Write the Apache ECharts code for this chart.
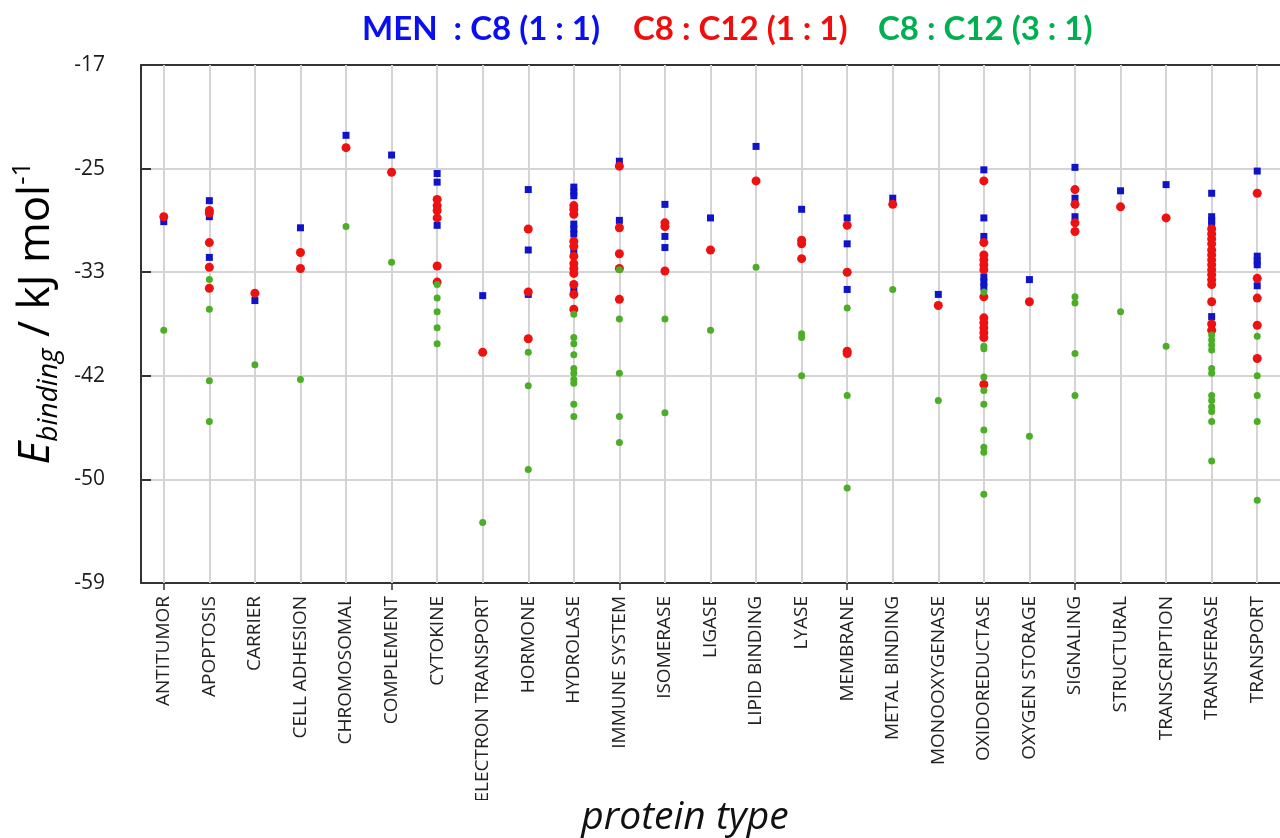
<!DOCTYPE html>
<html>
<head>
<meta charset="utf-8">
<script src="https://cdn.jsdelivr.net/npm/echarts@6/dist/echarts.min.js"></script>
<style>
  html, body { margin: 0; padding: 0; background: #fff; }
  #chart { width: 1280px; height: 838px; }
</style>
</head>
<body>
<div id="chart"></div>
<script>
// Protein types along the x axis
const categories = [
  'ANTITUMOR', 'APOPTOSIS', 'CARRIER', 'CELL ADHESION', 'CHROMOSOMAL',
  'COMPLEMENT', 'CYTOKINE', 'ELECTRON TRANSPORT', 'HORMONE', 'HYDROLASE',
  'IMMUNE SYSTEM', 'ISOMERASE', 'LIGASE', 'LIPID BINDING', 'LYASE',
  'MEMBRANE', 'METAL BINDING', 'MONOOXYGENASE', 'OXIDOREDUCTASE', 'OXYGEN STORAGE',
  'SIGNALING', 'STRUCTURAL', 'TRANSCRIPTION', 'TRANSFERASE', 'TRANSPORT'
];

// Binding energies (kJ/mol), one list per protein type, same order as categories
const menC8 = [
  [-29.7], [-28.0, -29.3, -32.6], [-36.1], [-30.2], [-22.7],
  [-24.3], [-25.8, -26.5, -30.0], [-35.7], [-27.1, -32.0, -35.6],
  [-26.9, -27.3, -27.6, -29.9, -30.3, -30.7, -32.1, -35.3],
  [-24.8, -29.6], [-28.3, -30.9, -31.8], [-29.4], [-23.6], [-28.7],
  [-29.4, -31.5, -35.2], [-27.8], [-35.6],
  [-25.5, -29.4, -30.9, -34.2, -34.6, -35.0], [-34.4],
  [-25.3, -27.8, -29.3], [-27.2], [-26.7],
  [-27.4, -29.3, -29.6, -29.9, -37.4],
  [-25.6, -32.5, -32.9, -33.2, -34.9]
];

const c8c12Equal = [
  [-29.3], [-28.8, -29.0, -31.4, -33.4, -35.1], [-35.5], [-32.2, -33.5], [-23.7],
  [-25.7], [-27.9, -28.4, -28.8, -29.4, -33.3, -34.6], [-40.3], [-30.3, -35.4, -39.2],
  [-28.4, -28.7, -29.1, -31.3, -31.7, -32.5, -33.1, -33.5, -33.9, -34.8, -35.6, -36.8],
  [-25.2, -30.2, -32.3, -33.5, -36.0], [-29.8, -30.1, -33.7], [-32.0], [-26.4],
  [-31.2, -31.5, -32.7],
  [-30.0, -33.8, -40.2, -40.4], [-28.3], [-36.5],
  [-26.4, -31.4, -32.4, -32.8, -33.2, -33.6, -35.8, -37.5, -37.9, -38.3, -38.7, -39.1, -42.9],
  [-36.2],
  [-27.1, -28.3, -29.8, -30.5], [-28.5], [-29.4],
  [-30.3, -30.7, -31.1, -31.5, -32.0, -32.4, -32.8, -33.2, -33.6, -34.0, -34.4, -34.8, -36.2, -38.0, -38.5],
  [-27.4, -34.3, -35.9, -38.1, -40.8]
];

const c8c12ThreeOne = [
  [-38.5], [-34.4, -36.8, -42.6, -45.9], [-41.3], [-42.5], [-30.1],
  [-33.0], [-34.8, -35.9, -37.0, -38.3, -39.6], [-54.1], [-40.3, -43.0, -49.8],
  [-37.2, -39.1, -39.6, -40.5, -41.6, -42.0, -42.5, -42.8, -44.5, -45.5],
  [-33.6, -37.6, -42.0, -45.5, -47.6], [-37.6, -45.2], [-38.5], [-33.4],
  [-38.8, -39.1, -42.2],
  [-36.7, -43.8, -51.3], [-35.2], [-44.2],
  [-35.4, -39.8, -40.0, -42.3, -43.4, -44.5, -46.6, -48.0, -48.4, -51.8],
  [-47.1],
  [-35.8, -36.3, -40.4, -43.8], [-37.0], [-39.8],
  [-38.9, -39.3, -39.7, -40.1, -41.6, -42.0, -43.8, -44.2, -44.7, -45.1, -45.9, -49.1],
  [-39.0, -42.2, -43.8, -45.9, -52.3]
];

// Series names and colours
const seriesNames = ['MEN  : C8 (1 : 1)', 'C8 : C12 (1 : 1)', 'C8 : C12 (3 : 1)'];
const seriesColors = ['#1014c8', '#ee1111', '#4cae26'];
const legendColors = ['#0a0ff0', '#f20d0d', '#00b050'];

// Flatten per-category lists into [category, value] pairs
function toPairs(lists) {
  const out = [];
  lists.forEach((vals, i) => vals.forEach(v => out.push([categories[i], v])));
  return out;
}

const chart = echarts.init(document.getElementById('chart'), null, { renderer: 'canvas' });

const axisColor = '#333';
const gridColor = '#d4d4d4';
const gridRect = { left: 141, top: 65, width: 1157, height: 518 };

const option = {
  backgroundColor: '#ffffff',
  animation: false,
  grid: gridRect,
  xAxis: [
    {
      type: 'category',
      data: categories,
      position: 'bottom',
      boundaryGap: true,
      axisLine: { show: true, lineStyle: { color: axisColor, width: 2 } },
      axisTick: { show: true, inside: true, alignWithLabel: true, length: 10,
                  lineStyle: { color: axisColor, width: 2 } },
      axisLabel: { rotate: 90, margin: 13, fontSize: 19, color: '#222',
                   fontFamily: 'Open Sans', interval: 0 },
      splitLine: { show: false }
    },
    {
      type: 'category',
      data: categories,
      position: 'top',
      boundaryGap: true,
      axisLine: { show: true, lineStyle: { color: axisColor, width: 2 } },
      axisTick: { show: true, inside: true, alignWithLabel: true, length: 12,
                  lineStyle: { color: axisColor, width: 2 } },
      axisLabel: { show: false },
      splitLine: { show: false }
    },
    {
      type: 'category',
      data: categories,
      position: 'bottom',
      boundaryGap: true,
      axisLine: { show: false },
      axisTick: { show: true, inside: false, alignWithLabel: true, length: 7,
                  lineStyle: { color: axisColor, width: 1.5 } },
      axisLabel: { show: false },
      splitLine: { show: false }
    }
  ],
  yAxis: {
    type: 'value',
    min: -59,
    max: -17,
    interval: 8.4,
    axisLine: { show: true, lineStyle: { color: axisColor, width: 2 } },
    axisTick: { show: true, inside: true, length: 10, lineStyle: { color: axisColor, width: 2 } },
    axisLabel: {
      margin: 36, fontSize: 21, color: '#1a1a1a', fontFamily: 'Open Sans',
      formatter: v => String(Math.trunc(Math.round(v * 10) / 10))
    },
    splitLine: { show: true, lineStyle: { color: gridColor, width: 2 } },
    name: '{e|E}{s|binding}{k| / kJ mol}{p|-1}',
    nameLocation: 'middle',
    nameRotate: 90,
    nameGap: 76,
    nameTextStyle: {
      color: '#000',
      fontFamily: 'Open Sans',
      padding: [0, 0, 0, 22],
      rich: {
        e: { fontSize: 44, fontStyle: 'italic', fontFamily: 'Open Sans', color: '#000', lineHeight: 54 },
        s: { fontSize: 28, fontStyle: 'italic', fontFamily: 'Open Sans', color: '#000',
             lineHeight: 29, verticalAlign: 'bottom' },
        k: { fontSize: 44, fontFamily: 'Open Sans', color: '#000', lineHeight: 54 },
        p: { fontSize: 26, fontFamily: 'Open Sans', color: '#000',
             lineHeight: 29, verticalAlign: 'top' }
      }
    }
  },
  series: [
    {
      // vertical guide lines through every protein type
      type: 'scatter',
      name: 'guides',
      data: [],
      silent: true,
      z: 1,
      markLine: {
        silent: true,
        z: 1,
        symbol: ['none', 'none'],
        label: { show: false },
        lineStyle: { color: gridColor, width: 2, type: 'solid' },
        emphasis: { disabled: true },
        data: categories.map(c => ({ xAxis: c }))
      }
    },
    {
      type: 'scatter',
      name: seriesNames[0],
      data: toPairs(menC8),
      symbol: 'rect',
      symbolSize: 7,
      itemStyle: { color: seriesColors[0], opacity: 1 },
      z: 10
    },
    {
      type: 'scatter',
      name: seriesNames[1],
      data: toPairs(c8c12Equal),
      symbol: 'circle',
      symbolSize: 9,
      itemStyle: { color: seriesColors[1], opacity: 1 },
      z: 11
    },
    {
      type: 'scatter',
      name: seriesNames[2],
      data: toPairs(c8c12ThreeOne),
      symbol: 'circle',
      symbolSize: 7,
      itemStyle: { color: seriesColors[2], opacity: 1 },
      z: 12
    }
  ],
  graphic: [
    {
      type: 'text', left: 362, top: 13,
      style: { text: seriesNames[0], fill: legendColors[0], font: 'bold 33px Lato' }
    },
    {
      type: 'text', left: 633, top: 13,
      style: { text: seriesNames[1], fill: legendColors[1], font: 'bold 33px Lato' }
    },
    {
      type: 'text', left: 878, top: 13,
      style: { text: seriesNames[2], fill: legendColors[2], font: 'bold 33px Lato' }
    },
    {
      // white band under the x-axis labels, in front of the tail of the longest one
      type: 'rect', z: 50,
      shape: { x: 474, y: 800, width: 26, height: 38 },
      style: { fill: '#ffffff' }
    },
    {
      type: 'text', x: 685, y: 818, z: 60,
      style: { text: 'protein type', fill: '#111', font: 'italic 39px "Open Sans"',
               align: 'center', verticalAlign: 'middle' }
    }
  ]
};

chart.setOption(option);
</script>
</body>
</html>
